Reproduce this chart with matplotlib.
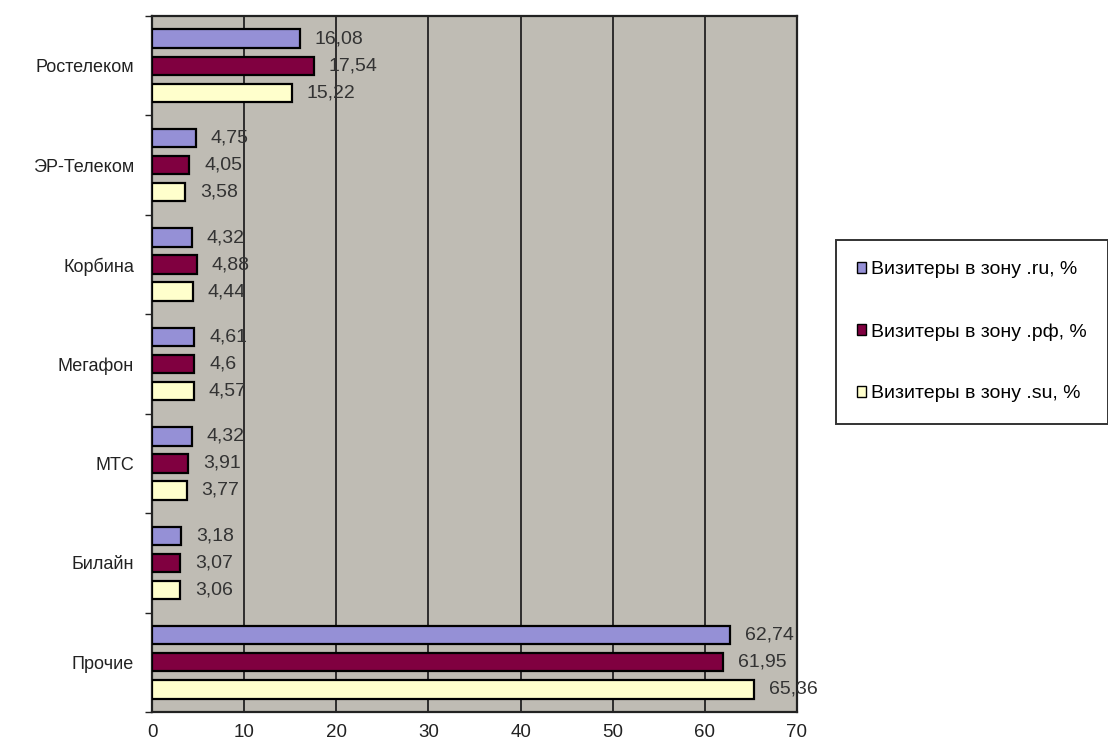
import matplotlib
matplotlib.use("Agg")
import matplotlib.pyplot as plt
import numpy as np

plt.rcParams['font.family'] = ['Liberation Sans', 'DejaVu Sans']

# data, top to bottom as shown in the chart
providers = ['Ростелеком', 'ЭР-Телеком', 'Корбина', 'Мегафон', 'МТС', 'Билайн', 'Прочие']
ru_share = [16.08, 4.75, 4.32, 4.61, 4.32, 3.18, 62.74]
rf_share = [17.54, 4.05, 4.88, 4.6, 3.91, 3.07, 61.95]
su_share = [15.22, 3.58, 4.44, 4.57, 3.77, 3.06, 65.36]
series_names = ['Визитеры в зону .ru, %', 'Визитеры в зону .рф, %', 'Визитеры в зону .su, %']
series_colors = ['#9590d6', '#800040', '#ffffcc']
x_ticks = [0, 10, 20, 30, 40, 50, 60, 70]

fig = plt.figure(figsize=(11.08, 7.45), dpi=100, facecolor='white')
ax = fig.add_axes([0.1372, 0.0443, 0.7193 - 0.1372, 0.9785 - 0.0443])
ax.set_facecolor('#bfbcb4')

n = len(providers)
centers = np.arange(n)[::-1] + 0.5
offsets = [-0.272, 0.0, 0.272]
bar_h = 0.185

for vals, off, col, name in zip([ru_share, rf_share, su_share], offsets, series_colors, series_names):
    ypos = centers - off
    ax.barh(ypos, vals, height=bar_h, color=col, edgecolor='black', linewidth=1.6,
            label=name, zorder=3)
    for y, v in zip(ypos, vals):
        ax.text(v + 1.6, y, f'{v:g}'.replace('.', ','), va='center', ha='left',
                fontsize=14, color='#333333', zorder=4)

ax.set_xlim(0, 70)
ax.set_ylim(0, n)
ax.set_xticks(x_ticks)
ax.set_xticklabels([str(t) for t in x_ticks], fontsize=13.5, color='#222222')
ax.tick_params(axis='x', length=0, pad=9)
ax.xaxis.grid(True, color='#222222', linewidth=1.3, zorder=1)
ax.set_axisbelow(True)

ax.set_yticks(np.arange(n + 1), minor=False)
ax.set_yticklabels([])
ax.tick_params(axis='y', which='major', length=5, direction='out', width=1, color='#222222')
ax.set_yticks(centers, minor=True)
ax.set_yticklabels(providers, minor=True, fontsize=13, color='#222222')
ax.tick_params(axis='y', which='minor', length=0, pad=13)

for side in ['left', 'bottom', 'top', 'right']:
    ax.spines[side].set_color('#222222')
    ax.spines[side].set_linewidth(1.6)

handles, labels = ax.get_legend_handles_labels()
leg = fig.legend(handles, labels, loc='upper left', bbox_to_anchor=(0.7545, 0.678),
                 bbox_transform=fig.transFigure, fontsize=14, frameon=True,
                 fancybox=False, edgecolor='black', handlelength=0.45, handleheight=0.45,
                 handletextpad=0.25, labelspacing=2.3, borderpad=1.1, borderaxespad=0)
leg.get_frame().set_linewidth(1.4)
for h in leg.legend_handles:
    h.set_linewidth(1.0)

fig.savefig('out.png', dpi=100, facecolor='white')
